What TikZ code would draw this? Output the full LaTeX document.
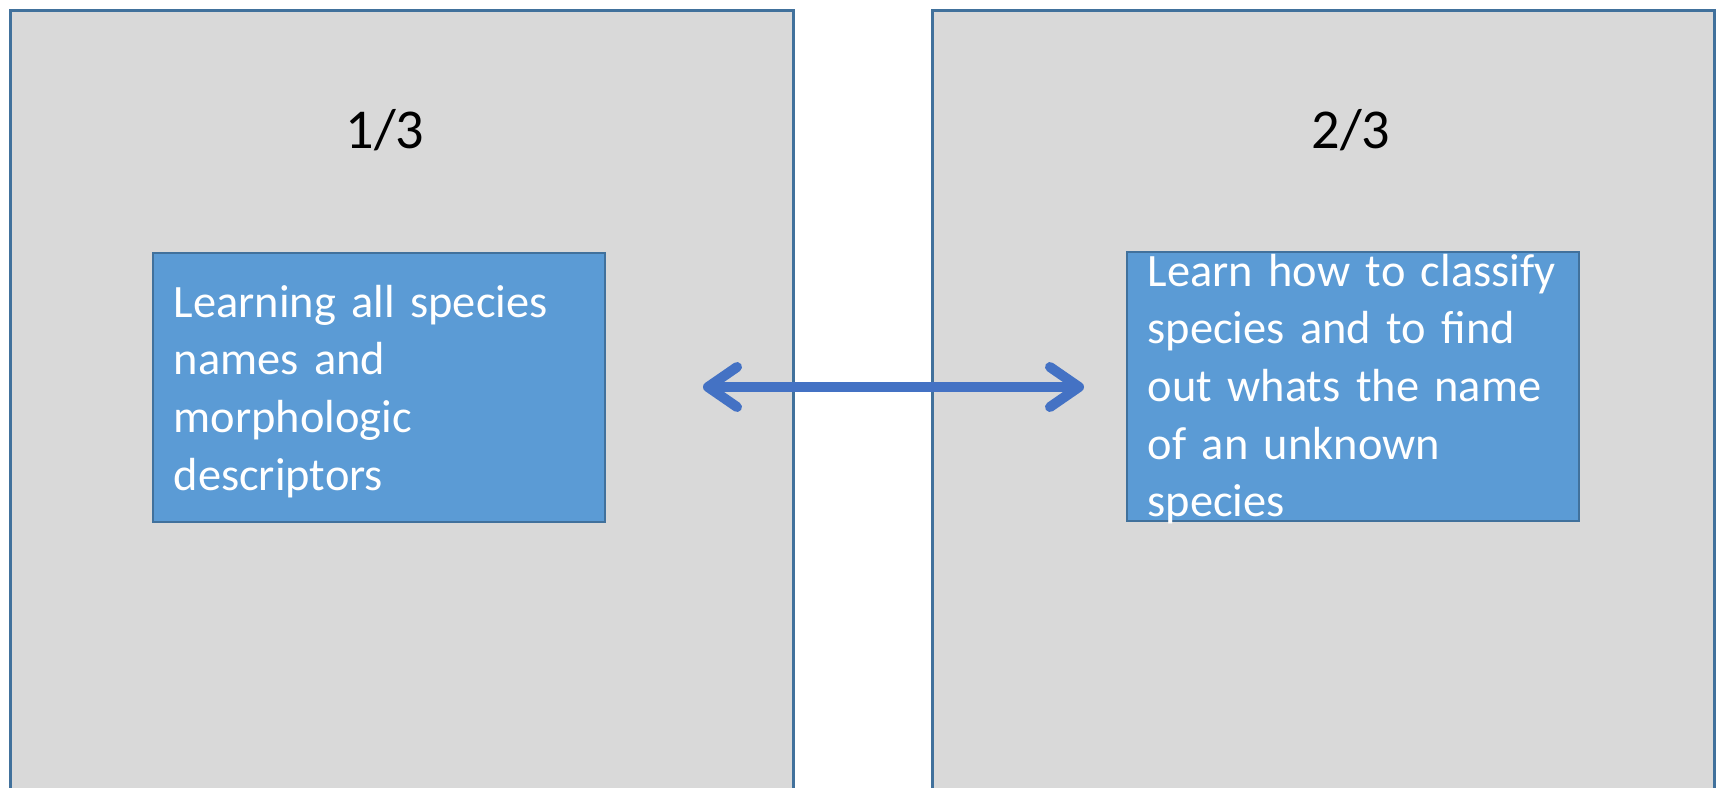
\documentclass[tikz,border=0pt]{standalone}
\usepackage{fontspec}
\setmainfont{Carlito}
\usetikzlibrary{arrows.meta}
\definecolor{panelgray}{HTML}{D9D9D9}
\definecolor{edgeblue}{HTML}{41719C}
\definecolor{boxblue}{HTML}{5B9BD5}
\definecolor{arrowblue}{HTML}{4472C4}
\begin{document}
\begin{tikzpicture}[x=0.01cm, y=-0.01cm,
  panel/.style={rectangle, draw=edgeblue, line width=0.03cm, fill=panelgray,
    inner sep=0pt, anchor=north west, minimum height=8.3cm},
  task/.style={rectangle, draw=edgeblue, line width=0.02cm, fill=boxblue,
    inner sep=0pt, anchor=north west, minimum width=4.52cm, minimum height=2.69cm},
  tasktext/.style={text=white, anchor=base west, inner sep=0pt, align=left,
    text width=4.3cm, font=\fontsize{13.2pt}{16.4pt}\selectfont},
  share/.style={anchor=base, inner sep=0pt, font=\fontsize{16pt}{19pt}\selectfont},
  link/.style={draw=arrowblue, line width=0.1cm,
    >={Straight Barb[round, length=0.29cm, width=0.4cm]}, <->}]
\useasboundingbox (0,0) rectangle (1717,787);
\clip (0,0) rectangle (1717,787);

% two columns, open at the bottom edge
\node[panel, minimum width=7.83cm] (left) at (9,9) {};
\node[panel, minimum width=7.82cm] (right) at (931,9) {};

% shares
\node[share] (shareL) at (385,148) {1/3};
\node[share] (shareR) at (1351,148) {2/3};

% task boxes
\node[task] (boxL) at (152,252) {};
\node[task] (boxR) at (1126,251) {};

\node[tasktext] (textL) at (173,317)
  {Learning all species\\names and\\morphologic\\descriptors};
\node[tasktext] (textR) at (1147,286)
  {Learn how to classify\\species and to find\\out whats the name\\of an unknown\\species};

% two-way link between the columns
\coordinate (endL) at (703,387);
\coordinate (endR) at (1084,387);
\draw[link] (endL) -- (endR);
\end{tikzpicture}
\end{document}
